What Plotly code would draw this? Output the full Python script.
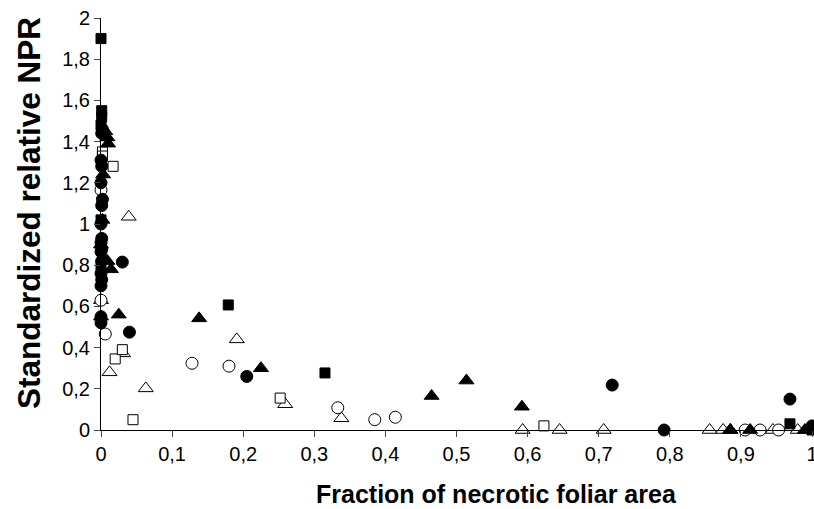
import plotly.graph_objects as go

# Filled squares
fsq_x = [0.0, 0.001, 0.001, 0.0, 0.0, 0.0, 0.179, 0.315, 0.969, 1.0]
fsq_y = [1.90, 1.55, 1.52, 1.48, 1.02, 0.80, 0.607, 0.277, 0.03, 0.0]
# Open squares
osq_x = [0.002, 0.017, 0.002, 0.02, 0.03, 0.045, 0.252, 0.623]
osq_y = [1.35, 1.28, 1.33, 0.345, 0.39, 0.05, 0.155, 0.02]
# Filled circles
fci_x = [0.002, 0.001, 0.0, 0.001, 0.0, 0.002, 0.001, 0.0, 0.001, 0.0, 0.001, 0.0,
         0.001, 0.0, 0.001, 0.0, 0.0, 0.0, 0.03, 0.04, 0.205, 0.719, 0.792, 0.969, 1.0]
fci_y = [1.46, 1.44, 1.31, 1.28, 1.20, 1.12, 1.09, 1.0, 0.93, 0.91, 0.88, 0.865,
         0.82, 0.76, 0.73, 0.70, 0.55, 0.52, 0.815, 0.475, 0.26, 0.218, 0.0, 0.15, 0.02]
# Open circles
oci_x = [0.0, 0.0, 0.006, 0.128, 0.18, 0.333, 0.385, 0.414, 0.906, 0.927, 0.953]
oci_y = [1.165, 0.63, 0.466, 0.324, 0.31, 0.108, 0.05, 0.062, 0.0, 0.0, 0.0]
# Filled triangles
ftr_x = [0.006, 0.009, 0.01, 0.003, 0.002, 0.0, 0.009, 0.014, 0.0, 0.025, 0.138,
         0.225, 0.465, 0.514, 0.592, 0.885, 0.913, 0.99, 1.0]
ftr_y = [1.45, 1.42, 1.39, 1.24, 1.02, 0.90, 0.82, 0.78, 0.55, 0.56, 0.542,
         0.30, 0.165, 0.24, 0.113, 0.0, 0.0, 0.0, 0.01]
# Open triangles
otr_x = [0.039, 0.0, 0.012, 0.031, 0.063, 0.191, 0.259, 0.338, 0.593, 0.645, 0.707,
         0.856, 0.875, 0.885, 0.945, 0.98]
otr_y = [1.035, 0.63, 0.28, 0.372, 0.202, 0.44, 0.125, 0.057, 0.0, 0.0, 0.0,
         0.0, 0.0, 0.0, 0.0, 0.0]

x_tickvals = [0, 0.1, 0.2, 0.3, 0.4, 0.5, 0.6, 0.7, 0.8, 0.9, 1]
x_ticktext = ["0", "0,1", "0,2", "0,3", "0,4", "0,5", "0,6", "0,7", "0,8", "0,9", "1"]
y_tickvals = [0, 0.2, 0.4, 0.6, 0.8, 1, 1.2, 1.4, 1.6, 1.8, 2]
y_ticktext = ["0", "0,2", "0,4", "0,6", "0,8", "1", "1,2", "1,4", "1,6", "1,8", "2"]

fig = go.Figure()

def add(xs, ys, symbol, filled, size):
    fig.add_trace(go.Scatter(
        x=xs, y=ys, mode="markers", cliponaxis=False, showlegend=False,
        marker=dict(symbol=symbol, size=size,
                    color="black" if filled else "white",
                    line=dict(color="black", width=1))))

add(otr_x, otr_y, "triangle-up", False, 13)
add(oci_x, oci_y, "circle", False, 12)
add(osq_x, osq_y, "square", False, 10)
add(fsq_x, fsq_y, "square", True, 10)
add(fci_x, fci_y, "circle", True, 12)
add(ftr_x, ftr_y, "triangle-up", True, 13)

font = "Liberation Sans, Arial, sans-serif"
fig.update_layout(
    width=814, height=509,
    margin=dict(l=101, r=2, t=18, b=79),
    paper_bgcolor="white", plot_bgcolor="white",
    font=dict(family=font, size=20, color="black"),
    xaxis=dict(range=[0, 1], tickvals=x_tickvals, ticktext=x_ticktext,
               showgrid=False, zeroline=False, showline=True, linecolor="black",
               linewidth=1, ticks="outside", ticklen=6, tickcolor="#444",
               automargin=False, ticklabeloverflow="allow",
               tickfont=dict(size=20, family=font)),
    yaxis=dict(range=[0, 2], tickvals=y_tickvals, ticktext=y_ticktext,
               showgrid=False, zeroline=False, showline=True, linecolor="black",
               linewidth=1, ticks="outside", ticklen=6, tickcolor="#444",
               automargin=False, ticklabeloverflow="allow",
               tickfont=dict(size=20, family=font)),
    annotations=[
        dict(text="<b>Fraction of necrotic foliar area</b>", xref="paper", yref="paper",
             x=(496 - 101) / 711, y=-(494 - 430) / 412, showarrow=False,
             font=dict(size=25, family=font), xanchor="center", yanchor="middle"),
        dict(text="<b>Standardized relative NPR</b>", xref="paper", yref="paper",
             x=-(101 - 29) / 711, y=(430 - 213) / 412, showarrow=False, textangle=-90,
             font=dict(size=31.5, family=font), xanchor="center", yanchor="middle"),
    ],
)

fig.write_html("out.html", config={"displayModeBar": False},
               post_script="document.body.style.margin='0';document.body.style.overflow='hidden';")
